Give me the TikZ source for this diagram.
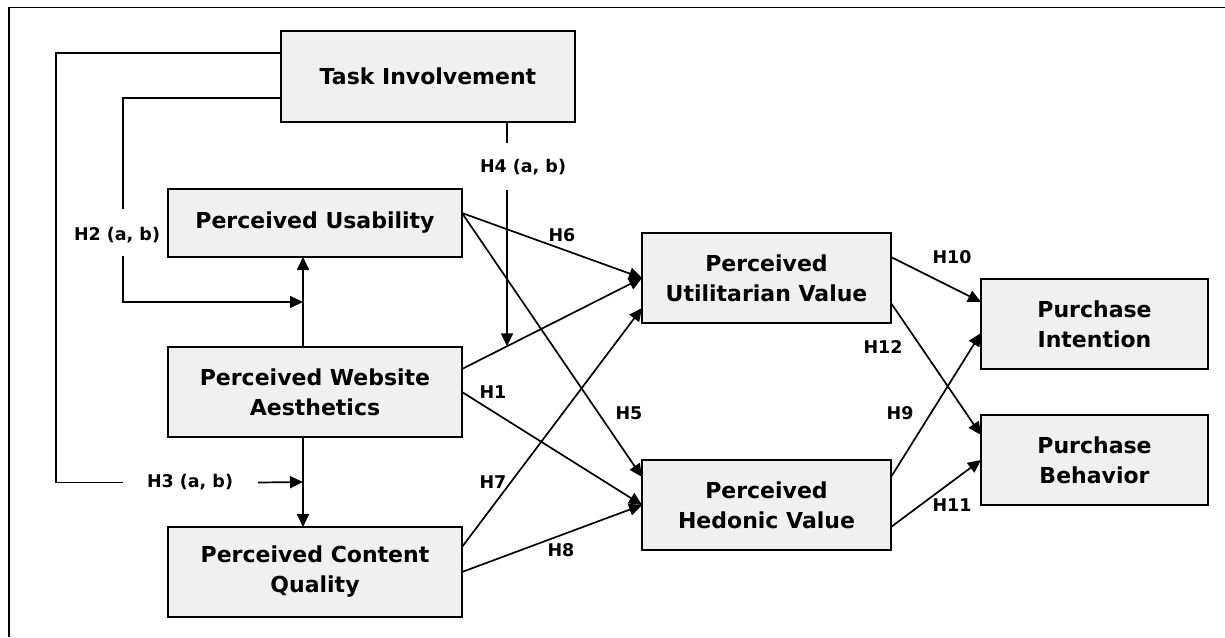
\documentclass[tikz,border=0pt]{standalone}
\usepackage{fontspec}
\setmainfont{DejaVu Sans}
\usetikzlibrary{arrows.meta, positioning, calc}
\definecolor{caixacinza}{RGB}{240,240,240}

\begin{document}
\begin{tikzpicture}[
    x=1pt, y=-1pt,
    node distance=90pt,
    box/.style={draw, line width=1.8pt, fill=caixacinza, align=center, inner sep=0pt, outer sep=0pt, font=\bfseries\fontsize{22}{30}\selectfont},
    hyp/.style={inner sep=0pt, font=\bfseries\fontsize{17.5}{20}\selectfont},
    link/.style={line width=1.8pt},
    arrow/.style={-{Triangle[length=13pt,width=12pt]}, line width=1.7pt}
  ]
  \useasboundingbox (0,0) rectangle (1225,637);
  \draw[link] (9,637) -- (9,7.5) -- (1225,7.5);

  % constructs
  \node[box, minimum width=294pt, minimum height=91pt] (task) at (428,76.5) {Task Involvement};
  \node[box, minimum width=294pt, minimum height=90pt] (pwa) at (315,392) {Perceived Website\\Aesthetics};
  \node[box, minimum width=294pt, minimum height=68pt] (pu) [above=of pwa] {Perceived Usability};
  \node[box, minimum width=294pt, minimum height=90pt] (pcq) [below=of pwa] {Perceived Content\\Quality};
  \node[box, minimum width=249pt, minimum height=90pt] (puv) at (766.5,278) {Perceived\\Utilitarian Value};
  \node[box, minimum width=249pt, minimum height=90pt] (phv) at (766.5,505) {Perceived\\Hedonic Value};
  \node[box, minimum width=227pt, minimum height=90pt] (pi) at (1094.5,324) {Purchase\\Intention};
  \node[box, minimum width=227pt, minimum height=90pt] (pb) [below=46pt of pi] {Purchase\\Behavior};

  % paths from aesthetics
  \draw[arrow] ($(pwa.north)+(-12,0)$) -- ($(pu.south)+(-12,0)$);
  \draw[arrow] ($(pwa.south)+(-12,0)$) -- ($(pcq.north)+(-12,0)$);
  \coordinate (w4) at ($(pwa.east)+(0,-23)$);
  \draw[arrow] (w4) -- (puv.west);
  \draw[arrow] (pwa.east) -- (phv.west);

  % moderation by task involvement
  \coordinate (m2) at ($(pwa.north)!0.5!(pu.south)+(-12,0)$);
  \coordinate (m3) at ($(pwa.south)!0.5!(pcq.north)+(-12,0)$);
  \coordinate (m4) at ($(w4)!0.25!(puv.west)$);
  \coordinate (h2a) at (123,209);
  \coordinate (h2b) at (123,256);
  \coordinate (h3c) at (56,482.5);
  \coordinate (h3a) at (123,482.5);
  \coordinate (h3b) at (258,482.5);
  \node[hyp] (h2) at (117,235) {H2 (a, b)};
  \node[hyp] (h3) at (190,482) {H3 (a, b)};
  \node[hyp] (h4) at (523,167) {H4 (a, b)};
  \draw[link] ($(task.west)+(0,21.5)$) -| (h2a);
  \draw[arrow] (h2b) |- (m2);
  \draw[link] ($(task.west)+(0,-23.5)$) -| (h3c) -- (h3a);
  \draw[arrow] (h3b) -- (m3);
  \draw[link] (m4 |- task.south) -- ++(0,21);
  \draw[arrow] (m4 |- 0,190) -- (m4);

  % usability and content quality
  \draw[arrow] ($(pu.east)+(0,-10)$) -- (puv.west);
  \draw[arrow] ($(pu.east)+(0,-10)$) -- ($(phv.west)+(0,-28)$);
  \draw[arrow] ($(pcq.east)+(0,-25)$) -- ($(puv.west)+(0,30)$);
  \draw[arrow] (pcq.east) -- (phv.west);

  % values to outcomes
  \draw[arrow] ($(puv.east)+(0,-21)$) -- ($(pi.west)+(0,-22)$);
  \draw[arrow] ($(puv.east)+(0,25)$) -- ($(pb.west)+(0,-25)$);
  \draw[arrow] ($(phv.east)+(0,-28)$) -- ($(pi.west)+(0,9)$);
  \draw[arrow] ($(phv.east)+(0,22)$) -- (pb.west);

  % hypothesis labels
  \node[hyp] (h1) at (493,392) {H1};
  \node[hyp] (h5) at (629,413) {H5};
  \node[hyp] (h6) at (562,235) {H6};
  \node[hyp] (h7) at (493,482) {H7};
  \node[hyp] (h8) at (561,550) {H8};
  \node[hyp] (h9) at (900,413) {H9};
  \node[hyp] (h10) at (952,257) {H10};
  \node[hyp] (h11) at (952,505) {H11};
  \node[hyp] (h12) at (883,347) {H12};
\end{tikzpicture}
\end{document}
